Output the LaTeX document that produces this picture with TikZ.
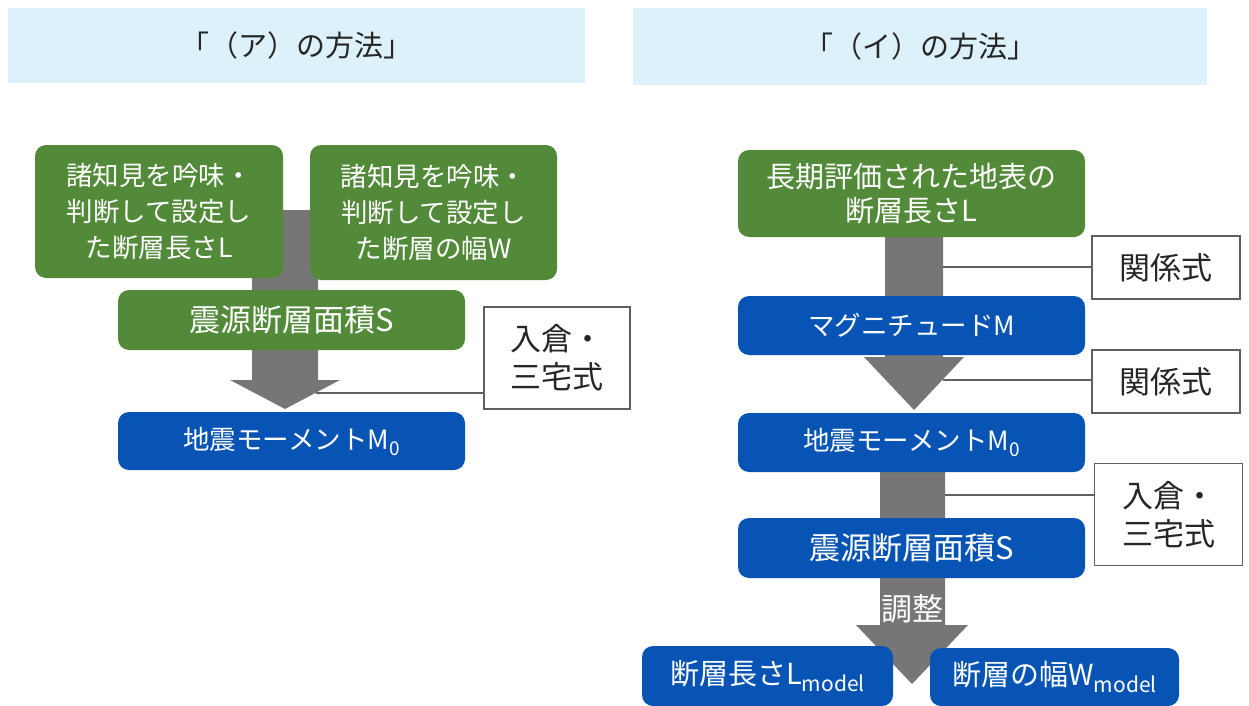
\documentclass[tikz,border=0pt]{standalone}
\usepackage{fontspec}
\newfontfamily\jp{Noto Sans CJK JP}
\definecolor{gboxc}{RGB}{82,138,58}
\definecolor{bboxc}{RGB}{8,84,180}
\definecolor{arrc}{RGB}{118,118,118}
\definecolor{headc}{RGB}{221,241,250}
\definecolor{edgec}{RGB}{95,95,95}
\begin{document}
\begin{tikzpicture}[x=1pt,y=-1pt,
  box/.style={rounded corners=11pt, text=white, align=center, inner sep=0pt,
    font=\jp\fontsize{26.5}{36}\selectfont},
  gbox/.style={box, fill=gboxc},
  bbox/.style={box, fill=bboxc},
  big/.style={font=\jp\fontsize{31}{36}\selectfont},
  wbox/.style={draw=edgec, line width=1.2pt, fill=white, align=center, inner sep=0pt,
    text=black!85, font=\jp\fontsize{31}{38}\selectfont},
  hbox/.style={fill=headc, inner sep=0pt, text=black!85, font=\jp\fontsize{29}{32}\selectfont},
  blockarrow/.style={fill=arrc},
  conn/.style={draw=edgec, line width=1.2pt}]
\useasboundingbox (0,0) rectangle (1249,706);

% headers
\node[hbox, minimum width=577pt, minimum height=75pt] (hA) at (296.5,45.5) {「（ア）の方法」};
\node[hbox, minimum width=574pt, minimum height=77pt] (hI) at (920,46.5) {「（イ）の方法」};

% ---------- left ----------
\fill[blockarrow] (252,210) -- (318,210) -- (318,380) -- (340,380) -- (285,409) -- (230,380) -- (252,380) -- cycle;
\coordinate (la) at (316,393);

\node[gbox, minimum width=248pt, minimum height=133pt] (L1) at (159,211.5) {諸知見を吟味・\\判断して設定し\\た断層長さL};
\node[gbox, minimum width=247pt, minimum height=135pt] (W1) at (433.5,212.5) {諸知見を吟味・\\判断して設定し\\た断層の幅W};
\node[gbox, big, minimum width=347pt, minimum height=60pt] (S1) at (291.5,320) {震源断層面積S};
\node[bbox, minimum width=347pt, minimum height=58pt] (M01) at (291.5,441) {地震モーメントM\raisebox{-6pt}{\fontsize{19}{19}\selectfont 0}};
\node[wbox, minimum width=146pt, minimum height=102pt] (IR1) at (557,358) {入倉・\\三宅式};
\draw[conn] (la) -- (la -| IR1.west);

% ---------- right ----------
\fill[blockarrow] (885,230) -- (943,230) -- (943,357) -- (964,357) -- (914,410) -- (864,357) -- (885,357) -- cycle;
\fill[blockarrow] (880,470) -- (945,470) -- (945,625) -- (968,625) -- (912,684) -- (856,625) -- (880,625) -- cycle;
\coordinate (ra1) at (943,267);
\coordinate (ra2) at (943,380);
\coordinate (ra3) at (945,495);
\node[text=white, big, inner sep=0pt] (adj) at (912,609) {調整};

\node[gbox, minimum width=347pt, minimum height=87pt, font=\jp\fontsize{29}{34}\selectfont] (LL) at (911.5,193.5) {長期評価された地表の\\断層長さL};
\node[bbox, minimum width=347pt, minimum height=59pt] (MM) at (911.5,325.5) {マグニチュードM};
\node[bbox, minimum width=347pt, minimum height=59pt] (M02) at (911.5,442.5) {地震モーメントM\raisebox{-6pt}{\fontsize{19}{19}\selectfont 0}};
\node[bbox, big, minimum width=347pt, minimum height=60pt] (S2) at (911.5,548) {震源断層面積S};
\node[bbox, minimum width=251pt, minimum height=60pt, font=\jp\fontsize{29}{34}\selectfont] (Lm) at (767.5,676) {断層長さL\raisebox{-7pt}{\fontsize{21}{21}\selectfont model}};
\node[bbox, minimum width=249pt, minimum height=58pt, font=\jp\fontsize{29}{34}\selectfont] (Wm) at (1054.5,677) {断層の幅W\raisebox{-7pt}{\fontsize{21}{21}\selectfont model}};

\node[wbox, minimum width=148pt, minimum height=63pt] (K1) at (1166,267.5) {関係式};
\node[wbox, minimum width=148pt, minimum height=63pt] (K2) at (1166,381.5) {関係式};
\node[wbox, minimum width=148pt, minimum height=102pt] (IR2) at (1168.5,514.5) {入倉・\\三宅式};
\draw[conn] (ra1) -- (ra1 -| K1.west);
\draw[conn] (ra2) -- (ra2 -| K2.west);
\draw[conn] (ra3) -- (ra3 -| IR2.west);
\end{tikzpicture}
\end{document}
